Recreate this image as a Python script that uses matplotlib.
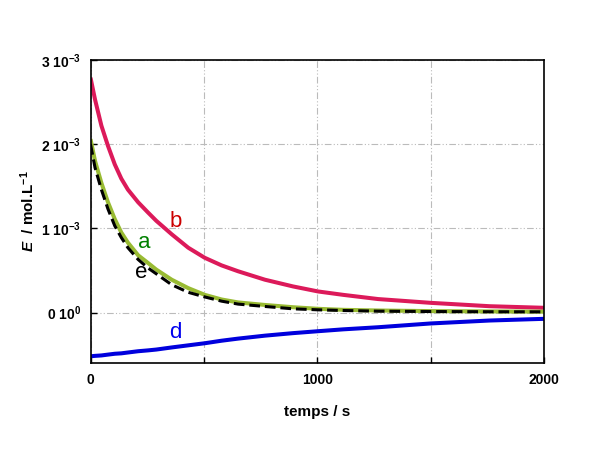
import matplotlib
matplotlib.use('Agg')
import matplotlib.pyplot as plt

plt.rcParams['font.family'] = ['Liberation Sans', 'DejaVu Sans']
plt.rcParams['mathtext.fontset'] = 'custom'
plt.rcParams['mathtext.rm'] = 'Liberation Sans:bold'
plt.rcParams['mathtext.it'] = 'Liberation Sans:italic:bold'
plt.rcParams['mathtext.bf'] = 'Liberation Sans:bold'
plt.rcParams['mathtext.default'] = 'rm'

# time in s, concentrations in 1e-3 mol/L
t = [0, 20, 48, 77, 107, 136, 165, 210, 253, 290, 358, 431, 504, 578,
     651, 769, 893, 1004, 1114, 1268, 1500, 1760, 2000]
curve_b = [2.79, 2.53, 2.22, 1.98, 1.76, 1.59, 1.46, 1.31, 1.19, 1.09, 0.93, 0.77, 0.65, 0.56,
           0.49, 0.39, 0.31, 0.25, 0.21, 0.16, 0.115, 0.075, 0.056]
curve_a = [2.06, 1.80, 1.54, 1.31, 1.11, 0.95, 0.83, 0.68, 0.59, 0.51, 0.39, 0.29, 0.21, 0.155,
           0.12, 0.09, 0.063, 0.044, 0.032, 0.024, 0.017, 0.013, 0.010]
curve_e = [2.00, 1.72, 1.46, 1.23, 1.03, 0.89, 0.77, 0.63, 0.53, 0.46, 0.33, 0.24, 0.185, 0.135,
           0.10, 0.072, 0.044, 0.032, 0.024, 0.016, 0.012, 0.009, 0.008]
curve_d = [-0.52, -0.515, -0.51, -0.50, -0.49, -0.485, -0.475, -0.46, -0.45, -0.44, -0.415, -0.39, -0.365, -0.335,
           -0.31, -0.275, -0.245, -0.222, -0.20, -0.175, -0.13, -0.095, -0.075]

ytick_vals = [0, 1, 2, 3]
ytick_labels = ['0 10$^{0}$', '1 10$^{-3}$', '2 10$^{-3}$', '3 10$^{-3}$']
xtick_vals = [0, 500, 1000, 1500, 2000]
xtick_labels = ['0', '', '1000', '', '2000']

fig = plt.figure(figsize=(6.05, 4.54), dpi=100)
ax = fig.add_axes([0.1496, 0.2004, 0.7496, 0.6674])

ax.plot(t, curve_b, color='#DC1A5A', lw=2.9, solid_capstyle='butt')
ax.plot(t, curve_a, color='#99BB33', lw=2.9, solid_capstyle='butt')
ax.plot(t, curve_e, color='black', lw=2.2, dashes=(3.5, 1.6))
ax.plot(t, curve_d, color='#0000DD', lw=2.9, solid_capstyle='butt')

ax.text(377, 1.083, 'b', color='#CC0000', fontsize=16, ha='center', va='center')
ax.text(236, 0.833, 'a', color='#008000', fontsize=16, ha='center', va='center')
ax.text(222, 0.476, 'e', color='black', fontsize=16, ha='center', va='center')
ax.text(372, -0.238, 'd', color='#0000EE', fontsize=16, ha='center', va='center')

ax.set_xlim(0, 2000)
ax.set_ylim(-0.6, 3)
ax.set_xticks(xtick_vals)
ax.set_xticklabels(xtick_labels, fontweight='bold', fontsize=10)
ax.set_yticks(ytick_vals)
ax.set_yticklabels(ytick_labels, fontweight='bold', fontsize=10)
ax.tick_params(direction='in', length=4, width=1, pad=7)
ax.grid(True, color='#BBBBBB', lw=0.8, dashes=(6, 2, 1, 2, 1, 2))

for s in ax.spines.values():
    s.set_linewidth(1.2)

ax.set_xlabel('temps / s', fontweight='bold', fontsize=11, labelpad=13)
ax.set_ylabel('$\\it{E}$  / mol.L$^{-1}$', fontweight='bold', fontsize=11, labelpad=3)

fig.savefig('out.png', dpi=100)
